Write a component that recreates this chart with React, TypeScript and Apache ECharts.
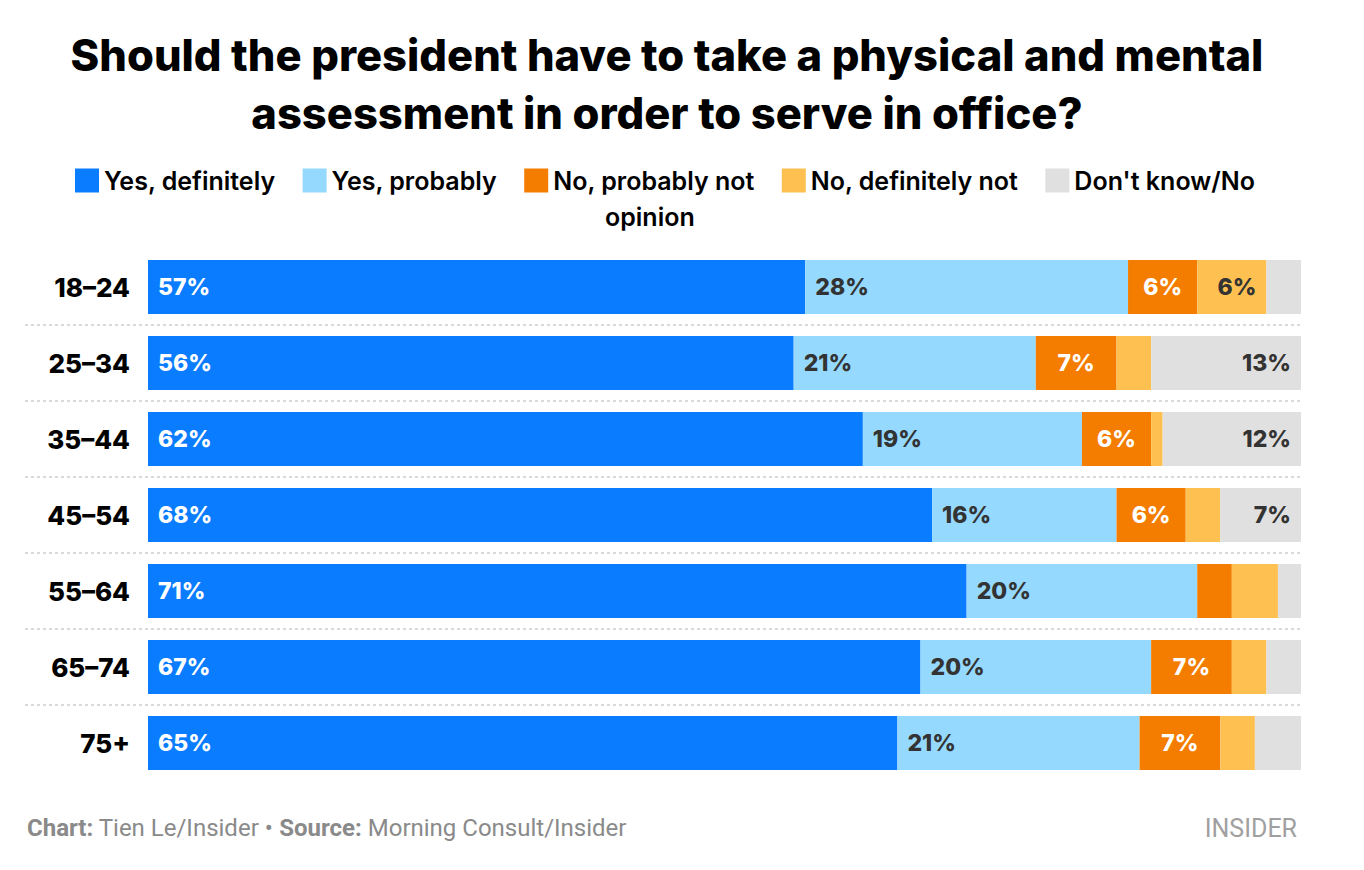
import React, { useEffect, useRef } from "react";
import * as echarts from "echarts";

const categories = ["18–24", "25–34", "35–44", "45–54", "55–64", "65–74", "75+"];
const yesDefinitely = [57, 56, 62, 68, 71, 67, 65];
const yesProbably = [28, 21, 19, 16, 20, 20, 21];
const noProbablyNot = [6, 7, 6, 6, 3, 7, 7];
const noDefinitelyNot = [6, 3, 1, 3, 4, 3, 3];
const dontKnow = [3, 13, 12, 7, 2, 3, 4];

const seriesNames = ["Yes, definitely", "Yes, probably", "No, probably not", "No, definitely not", "Don't know/No opinion"];
const colors = ["#0a7cff", "#96d9ff", "#f47d00", "#ffc052", "#e0e0e0"];

const FONT = "Inter";

export default function App() {
  const ref = useRef<HTMLDivElement>(null);
  useEffect(() => {
    document.body.style.margin = "0";
    const chart = echarts.init(ref.current!, null, { renderer: "svg" });
    const datasets = [yesDefinitely, yesProbably, noProbablyNot, noDefinitelyNot, dontKnow];
    const labelPos = ["insideLeft", "insideLeft", "inside", "insideRight", "insideRight"];
    const labelColor = ["#ffffff", "#333333", "#ffffff", "#333333", "#333333"];
    const series = datasets.map((d, i) => ({
      name: seriesNames[i],
      type: "bar",
      stack: "total",
      barWidth: "71%",
      data: d,
      itemStyle: { color: colors[i] },
      label: {
        show: true,
        position: labelPos[i],
        distance: 10,
        color: labelColor[i],
        fontFamily: FONT,
        fontWeight: 800,
        fontSize: 23,
        formatter: (p: any) => (p.value >= 5 ? p.value + "%" : ""),
      },
    }));
    chart.setOption({
      animation: false,
      backgroundColor: "#ffffff",
      title: [
        {
          text: "Should the president have to take a physical and mental\nassessment in order to serve in office?",
          left: 662,
          textAlign: "center",
          top: 21,
          textStyle: { fontFamily: FONT, fontWeight: 800, fontSize: 43.5, lineHeight: 58, color: "#000", align: "center" },
        },
        {
          text: "opinion",
          left: 600,
          top: 199,
          textStyle: { fontFamily: FONT, fontWeight: 600, fontSize: 25, color: "#000" },
        },
        {
          text: "{b|Chart:} Tien Le/Insider • {b|Source:} Morning Consult/Insider",
          left: 22,
          top: 811,
          textStyle: {
            fontFamily: "Roboto",
            fontSize: 24,
            fontWeight: 400,
            color: "#8a8a8a",
            rich: { b: { fontFamily: "Roboto", fontSize: 24, fontWeight: 700, color: "#8a8a8a" } },
          },
        },
        {
          text: "INSIDER",
          right: 62,
          top: 811,
          textStyle: { fontFamily: "Roboto", fontSize: 25, fontWeight: 400, color: "#a0a0a0" },
        },
      ],
      legend: {
        left: 70,
        top: 163,
        itemWidth: 24,
        itemHeight: 24,
        itemGap: 27,
        icon: "rect",
        selectedMode: false,
        formatter: (n: string) => (n === "Don't know/No opinion" ? "Don't know/No" : n),
        textStyle: { fontFamily: FONT, fontWeight: 600, fontSize: 25, color: "#000" },
        data: seriesNames,
      },
      grid: [
        { left: 148, right: 63, top: 249, height: 532 },
        { left: 25, right: 63, top: 249, height: 532 },
      ],
      xAxis: [
        { type: "value", min: 0, max: 100, show: false, gridIndex: 0 },
        { type: "value", min: 0, max: 1, show: false, gridIndex: 1 },
      ],
      yAxis: [
        {
          type: "category",
          gridIndex: 0,
          data: categories,
          inverse: true,
          axisLine: { show: false },
          axisTick: { show: false },
          splitLine: { show: false },
          axisLabel: { margin: 18, fontFamily: FONT, fontWeight: 800, fontSize: 26, color: "#000" },
        },
        {
          type: "value",
          gridIndex: 1,
          min: 0,
          max: 7,
          interval: 1,
          axisLine: { show: false },
          axisTick: { show: false },
          axisLabel: { show: false },
          splitLine: {
            show: true,
            showMinLine: false,
            showMaxLine: false,
            lineStyle: { color: "#d9d9d9", width: 2, type: [3, 3] },
          },
        },
      ],
      series,
    });
    return () => chart.dispose();
  }, []);
  return <div ref={ref} style={{ width: 1364, height: 870 }} />;
}
